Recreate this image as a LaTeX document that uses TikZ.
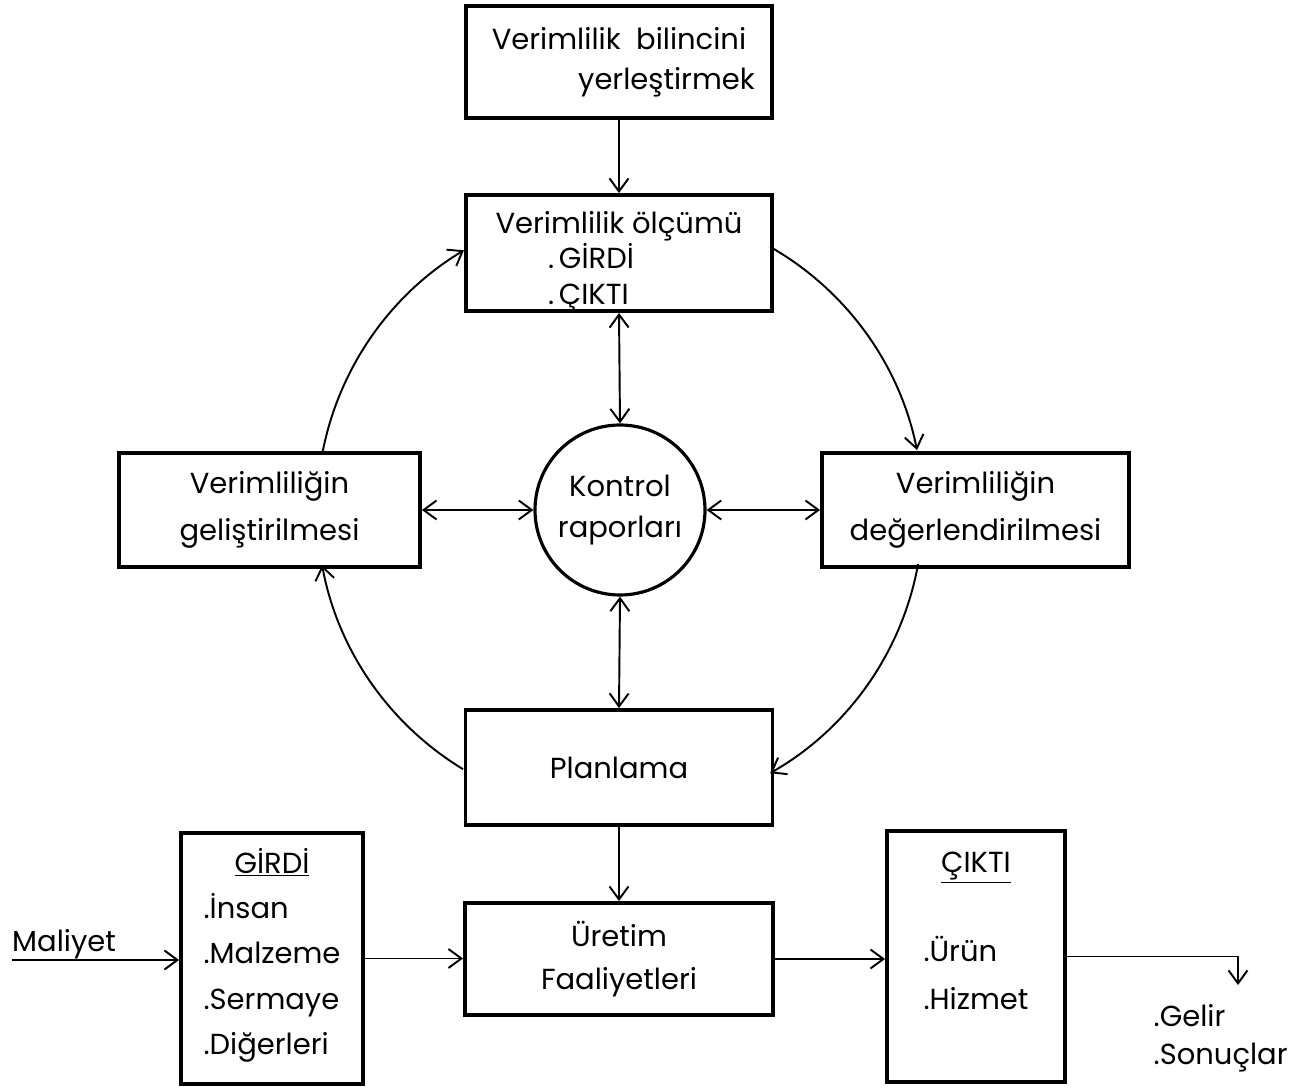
\documentclass[tikz,border=0pt]{standalone}
\usepackage{fontspec}
\setmainfont{Poppins}
\usepackage{tikz}
\usetikzlibrary{arrows.meta, calc}

\begin{document}
\begin{tikzpicture}[
    >={Straight Barb[length=2.6mm, width=3.8mm, line width=1.1pt]},
    kutu/.style={draw, line width=2.2pt, inner sep=0pt, align=center,
      font=\fontsize{16.5}{23}\selectfont},
    ok/.style={line width=1.1pt},
    yazi/.style={font=\fontsize{16.5}{23}\selectfont}
  ]
  \useasboundingbox (0,0) rectangle (26.18,21.76);
  % upper part: cycle around the control reports
  \node[kutu, minimum width=6.12cm, minimum height=2.24cm] (bilinc) at (12.38,20.52)
    {Verimlilik\ \ bilincini\\[0cm]\hspace*{1.9cm}yerleştirmek};
  \node[kutu, minimum width=6.12cm, minimum height=2.32cm] (olcum) at (12.38,16.70) {};
  \node[yazi, align=left] at ([yshift=-0.17cm]olcum.center)
    {Verimlilik ölçümü\\[-0.1cm]\hspace*{1.05cm}.\,GİRDİ\\[-0.1cm]\hspace*{1.05cm}.\,ÇIKTI};
  \node[kutu, circle, line width=1.8pt, minimum size=3.4cm] (kontrol) at (12.40,11.56)
    {Kontrol\\[0cm]raporları};
  \node[kutu, minimum width=6.02cm, minimum height=2.28cm] (gelis) at (5.39,11.56)
    {Verimliliğin\\[0.12cm]geliştirilmesi};
  \node[kutu, minimum width=6.14cm, minimum height=2.28cm] (deger) at (19.51,11.56)
    {Verimliliğin\\[0.12cm]değerlendirilmesi};
  \node[kutu, minimum width=6.14cm, minimum height=2.30cm] (plan) at (12.38,6.41) {Planlama};
  % lower part: input, production, output
  \node[kutu, minimum width=3.64cm, minimum height=5.02cm] (girdi) at (5.44,2.59) {};
  \node[yazi, anchor=north, align=left] at ([yshift=-0.15cm]girdi.north)
    {\begin{tabular}{@{}l@{}}
      \multicolumn{1}{c}{\underline{GİRDİ}}\\[0.1cm]
      .İnsan\\[0.1cm] .Malzeme\\[0.1cm] .Sermaye\\[0.1cm] .Diğerleri
    \end{tabular}};
  \node[kutu, minimum width=6.16cm, minimum height=2.24cm] (uretim) at (12.38,2.58)
    {Üretim\\[0.05cm]Faaliyetleri};
  \node[kutu, minimum width=3.56cm, minimum height=5.02cm] (cikti) at (19.52,2.63) {};
  \node[yazi, anchor=north, align=left] at ([yshift=-0.18cm]cikti.north)
    {\begin{tabular}{@{}l@{}}
      \multicolumn{1}{c}{\underline{ÇIKTI}}\\[0.98cm]
      .Ürün\\[0.15cm] .Hizmet
    \end{tabular}};
  \node[yazi, anchor=south west] (maliyet) at (0.12,2.46) {Maliyet};
  \node[yazi, anchor=west, align=left] (sonuclar) at (22.95,1.0) {.Gelir\\[-0.05cm].Sonuçlar};
  \coordinate (maliyetbas) at (0.24,2.56);
  \coordinate (sonucuc) at (24.76,2.06);
  % straight connectors
  \draw[ok, ->] (bilinc.south) -- (olcum.north);
  \draw[ok, <->] (olcum.south) -- (kontrol.north);
  \draw[ok, <->] (kontrol.south) -- (plan.north);
  \draw[ok, <->] (gelis.east) -- (kontrol.west);
  \draw[ok, <->] (kontrol.east) -- (deger.west);
  \draw[ok, ->] (plan.south) -- (uretim.north);
  \draw[ok, ->] (maliyetbas) -- (maliyetbas -| girdi.west);
  \draw[ok, ->] (girdi.east) -- (girdi.east -| uretim.west);
  \draw[ok, ->] (uretim.east) -- (uretim.east -| cikti.west);
  \draw[ok, ->] (cikti.east) -| (sonucuc);
  % curved connectors on a ring round the circle
  \draw[ok, ->] ([shift={(168.8:6.06)}]kontrol.center) arc[start angle=168.8, end angle=121, radius=6.06];
  \draw[ok, ->] ([shift={(60.3:6.06)}]kontrol.center) arc[start angle=60.3, end angle=11.4, radius=6.06];
  \draw[ok, ->] ([shift={(-10.3:6.06)}]kontrol.center) arc[start angle=-10.3, end angle=-60.3, radius=6.06];
  \draw[ok, ->] ([shift={(-121.2:6.06)}]kontrol.center) arc[start angle=-121.2, end angle=-169.5, radius=6.06];
\end{tikzpicture}
\end{document}
